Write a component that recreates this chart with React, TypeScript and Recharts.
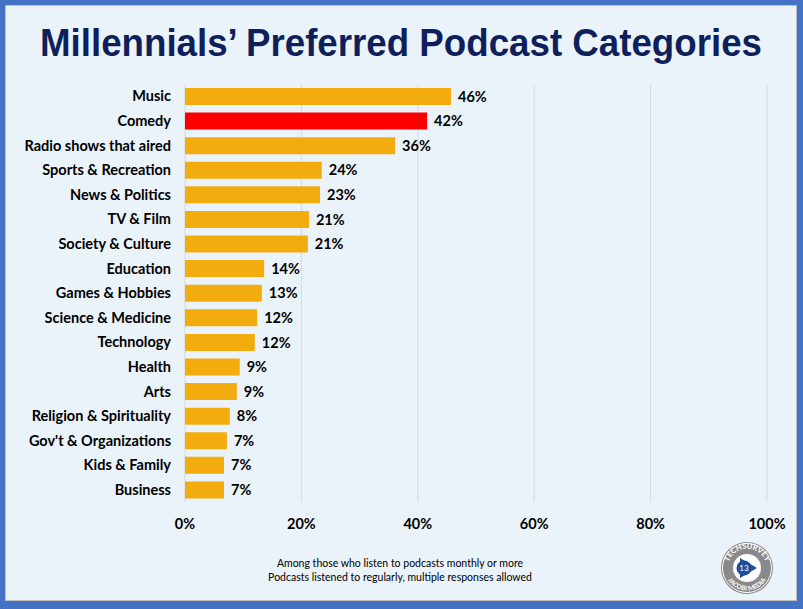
import React from "react";
import { BarChart, Bar, XAxis, YAxis, CartesianGrid, Cell, LabelList } from "recharts";

const categories = [
  "Music",
  "Comedy",
  "Radio shows that aired",
  "Sports & Recreation",
  "News & Politics",
  "TV & Film",
  "Society & Culture",
  "Education",
  "Games & Hobbies",
  "Science & Medicine",
  "Technology",
  "Health",
  "Arts",
  "Religion & Spirituality",
  "Gov't & Organizations",
  "Kids & Family",
  "Business",
];
const values = [45.7, 41.6, 36.1, 23.5, 23.2, 21.3, 21.1, 13.6, 13.2, 12.4, 12.0, 9.4, 8.9, 7.7, 7.2, 6.7, 6.7];
const highlight = "Comedy";
const xTicks = [0, 20, 40, 60, 80, 100];
const title = "Millennials’ Preferred Podcast Categories";
const notes = [
  "Among those who listen to podcasts monthly or more",
  "Podcasts listened to regularly, multiple responses allowed",
];

const data = categories.map((c, i) => ({ name: c, value: values[i] }));

const FONT = "Lato, 'Open Sans', sans-serif";

function Overlay() {
  return (
    <svg width={803} height={609} style={{ position: "absolute", left: 0, top: 0, pointerEvents: "none" }}>
      <defs>
        <path id="arcTop" d="M 728.2 563 A 19.5 19.5 0 0 1 765.8 563" />
        <path id="arcBot" d="M 725.3 574 A 22.5 22.5 0 0 0 768.7 574" />
      </defs>
      <text
        x={401}
        y={56}
        textAnchor="middle"
        fontFamily="'Liberation Sans Narrow', 'Liberation Sans', Arial, sans-serif"
        fontWeight="bold"
        fontSize={38}
        fill="#0E1F5B"
        textLength={722}
        lengthAdjust="spacingAndGlyphs"
      >
        {title}
      </text>
      {notes.map((n, i) => (
        <text
          key={i}
          x={400}
          y={567 + i * 14}
          textAnchor="middle"
          fontFamily={FONT}
          fontSize={10.5}
          fill="#000"
        >
          {n}
        </text>
      ))}
      <circle cx={747} cy={568} r={26} fill="#8A8A8A" />
      <circle cx={747} cy={568} r={24.5} fill="none" stroke="#fff" strokeWidth={1} />
      <circle cx={747} cy={568} r={14} fill="#fff" />
      <text fontFamily={FONT} fontWeight="bold" fontSize={7.5} fill="#fff">
        <textPath href="#arcTop" startOffset="50%" textAnchor="middle">TECHSURVEY</textPath>
      </text>
      <text fontFamily={FONT} fontWeight="bold" fontSize={6.5} fill="#fff">
        <textPath href="#arcBot" startOffset="50%" textAnchor="middle">JACOBI MEDIA</textPath>
      </text>
      <path d="M 740 558 L 757 568 L 740 578 Z" fill="#1F4E96" />
      <circle cx={744} cy={568} r={7.5} fill="#1F4E96" />
      <text x={744} y={571} textAnchor="middle" fontFamily={FONT} fontSize={8} fill="#fff">13</text>
    </svg>
  );
}

export default function App() {
  return (
    <div style={{ position: "absolute", left: 0, top: 0, width: 803, height: 609, background: "#4472C4" }}>
      <div
        style={{
          position: "absolute",
          left: 5,
          top: 5,
          width: 790,
          height: 594,
          background: "#EAF2FA",
          border: "1px solid #BFBFBF",
        }}
      />
      <div style={{ position: "absolute", left: 0, top: 0 }}>
        <BarChart
          width={803}
          height={609}
          data={data}
          layout="vertical"
          margin={{ top: 84, right: 36, bottom: 77, left: 0 }}
        >
          <CartesianGrid horizontal={false} stroke="#D9D9D9" />
          <XAxis
            type="number"
            domain={[0, 100]}
            ticks={xTicks}
            tickFormatter={(v: number) => `${v}%`}
            axisLine={false}
            tickLine={false}
            tickMargin={11}
            height={30}
            tick={{ fontFamily: FONT, fontWeight: "bold", fontSize: 14.5, fill: "#000" }}
          />
          <YAxis
            type="category"
            dataKey="name"
            width={185}
            axisLine={false}
            tickLine={false}
            tickMargin={8}
            interval={0}
            tick={{ fontFamily: FONT, fontWeight: "bold", fontSize: 14.5, fill: "#000" }}
          />
          <Bar dataKey="value" barSize={17} isAnimationActive={false}>
            {data.map((d) => (
              <Cell key={d.name} fill={d.name === highlight ? "#FF0000" : "#F2AC0E"} />
            ))}
            <LabelList
              dataKey="value"
              position="right"
              offset={7}
              formatter={(v: number) => `${Math.round(v)}%`}
              style={{ fontFamily: FONT, fontWeight: "bold", fontSize: 14.5, fill: "#000" }}
            />
          </Bar>
        </BarChart>
      </div>
      <Overlay />
    </div>
  );
}
